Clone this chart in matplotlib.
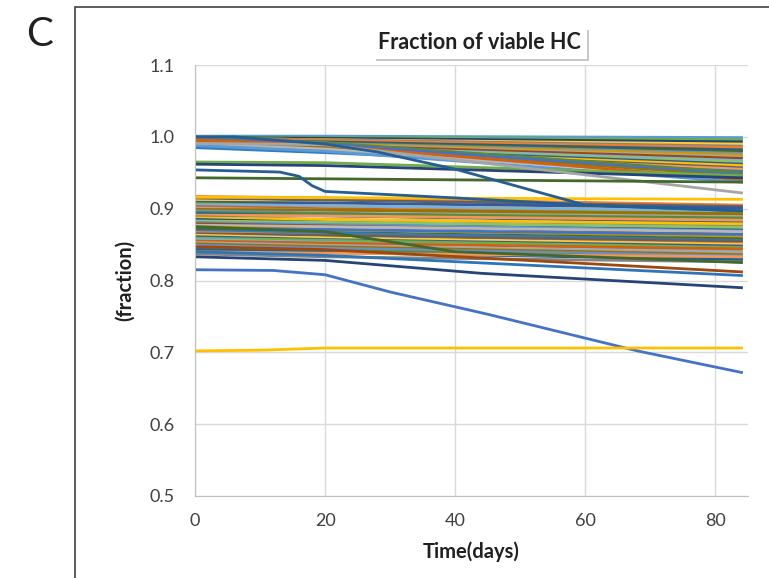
import matplotlib
matplotlib.use("Agg")
import matplotlib.pyplot as plt
import matplotlib.patches as mpatches
import matplotlib.patheffects as pe

plt.rcParams['font.family'] = ['Lato', 'DejaVu Sans']

# Excel-style series palette (cycled)
palette = ['#5B9BD5', '#ED7D31', '#A5A5A5', '#FFC000', '#4472C4', '#70AD47',
           '#255E91', '#9E480E', '#636363', '#997300', '#264478', '#43682B',
           '#7CAFDD', '#F1975A', '#B7B7B7', '#FFCD33', '#698ED0', '#8CC168',
           '#327DC2', '#D26012', '#848484', '#CC9A00', '#335AA1', '#5A8A39']

# bulk series sampled at day 0, 20 and 84
bulk_t = [0, 20, 84]

top_v0 = [1.001, 1.000, 0.999, 0.998, 0.998, 0.997, 0.996, 0.995, 0.995, 0.994,
          0.993, 0.992, 0.991, 0.990, 0.989, 0.988, 0.987, 0.986, 0.985, 0.999,
          0.997, 0.993, 0.990, 0.996, 0.988, 0.965, 0.962]
top_v20 = [1.001, 0.999, 0.998, 0.996, 0.996, 0.995, 0.993, 0.992, 0.991, 0.990,
           0.989, 0.988, 0.986, 0.985, 0.984, 0.982, 0.981, 0.980, 0.978, 0.992,
           0.990, 0.985, 0.983, 0.988, 0.980, 0.964, 0.960]
top_v84 = [0.999, 0.996, 0.993, 0.990, 0.987, 0.985, 0.982, 0.980, 0.977, 0.975,
           0.972, 0.970, 0.967, 0.965, 0.962, 0.960, 0.957, 0.955, 0.952, 0.950,
           0.947, 0.945, 0.942, 0.940, 0.937, 0.946, 0.943]

mid_v0 = [0.917, 0.914, 0.911, 0.909, 0.907, 0.905, 0.903, 0.901, 0.899, 0.897,
          0.895, 0.893, 0.891, 0.889, 0.887, 0.885, 0.883, 0.881, 0.879, 0.877,
          0.875, 0.873, 0.871, 0.869, 0.867, 0.865, 0.863, 0.861, 0.859, 0.857,
          0.855, 0.853, 0.851, 0.849, 0.846, 0.843, 0.840, 0.837]
mid_v20 = [0.915, 0.912, 0.908, 0.908, 0.904, 0.904, 0.900, 0.898, 0.898, 0.894,
           0.893, 0.890, 0.890, 0.885, 0.885, 0.881, 0.881, 0.878, 0.876, 0.875,
           0.871, 0.871, 0.867, 0.866, 0.863, 0.863, 0.859, 0.857, 0.856, 0.853,
           0.852, 0.849, 0.847, 0.845, 0.842, 0.839, 0.838, 0.833]
mid_v84 = [0.905, 0.903, 0.899, 0.901, 0.895, 0.897, 0.892, 0.889, 0.893, 0.885,
           0.887, 0.881, 0.884, 0.877, 0.879, 0.871, 0.874, 0.869, 0.866, 0.868,
           0.861, 0.864, 0.858, 0.856, 0.853, 0.855, 0.850, 0.848, 0.846, 0.842,
           0.844, 0.839, 0.836, 0.834, 0.831, 0.829, 0.833, 0.826]

# individually shaped series
dec_top_t = [0, 6, 20, 28, 40, 50, 60, 84]
dec_top_v = [1.000, 1.000, 0.990, 0.979, 0.955, 0.930, 0.905, 0.897]

step_t = [0, 13, 16, 18, 20, 40, 60, 84]
step_v = [0.954, 0.951, 0.945, 0.932, 0.924, 0.915, 0.905, 0.897]

green_flat_t = [0, 84]
green_flat_v = [0.943, 0.937]

grey_dec_t = [0, 20, 84]
grey_dec_v = [0.991, 0.989, 0.922]

gold_flat_t = [0, 84]
gold_flat_v = [0.916, 0.913]

gold_low_t = [0, 10, 20, 84]
gold_low_v = [0.702, 0.703, 0.706, 0.706]

blue_low_t = [0, 12, 20, 30, 45, 68, 84]
blue_low_v = [0.815, 0.814, 0.808, 0.784, 0.753, 0.702, 0.672]

navy_t = [0, 20, 44, 84]
navy_v = [0.833, 0.828, 0.810, 0.790]

blue2_t = [0, 20, 84]
blue2_v = [0.840, 0.835, 0.807]

brown_t = [0, 20, 84]
brown_v = [0.847, 0.843, 0.812]

green_dec_t = [0, 20, 40, 84]
green_dec_v = [0.875, 0.868, 0.840, 0.825]

fig = plt.figure(figsize=(7.69, 5.78), dpi=100)
ax = fig.add_axes([0.2536, 0.1419, 0.7191, 0.7456])

lw = 2.0
for i in range(len(top_v0)):
    ax.plot(bulk_t, [top_v0[i], top_v20[i], top_v84[i]],
            color=palette[(i * 5) % len(palette)], lw=lw)
for i in range(len(mid_v0)):
    ax.plot(bulk_t, [mid_v0[i], mid_v20[i], mid_v84[i]],
            color=palette[(i * 7 + 1) % len(palette)], lw=lw)

ax.plot(grey_dec_t, grey_dec_v, color='#A5A5A5', lw=lw)
ax.plot(green_flat_t, green_flat_v, color='#43682B', lw=lw)
ax.plot(gold_flat_t, gold_flat_v, color='#FFC000', lw=lw)
ax.plot(dec_top_t, dec_top_v, color='#255E91', lw=lw)
ax.plot(step_t, step_v, color='#255E91', lw=lw)
ax.plot(green_dec_t, green_dec_v, color='#43682B', lw=lw)
ax.plot(brown_t, brown_v, color='#9E480E', lw=lw)
ax.plot(blue2_t, blue2_v, color='#2E75B6', lw=lw)
ax.plot(navy_t, navy_v, color='#264478', lw=lw)
ax.plot(blue_low_t, blue_low_v, color='#4472C4', lw=lw)
ax.plot(gold_low_t, gold_low_v, color='#FFC000', lw=lw)

ax.set_xlim(0, 85)
ax.set_ylim(0.5, 1.1)
ax.set_xticks([0, 20, 40, 60, 80])
ax.set_yticks([0.5, 0.6, 0.7, 0.8, 0.9, 1.0, 1.1])
ax.set_yticklabels(['0.5', '0.6', '0.7', '0.8', '0.9', '1.0', '1.1'])
ax.grid(True, color='#D9D9D9', lw=1)
ax.set_axisbelow(True)
for s in ['top', 'right']:
    ax.spines[s].set_visible(False)
for s in ['left', 'bottom']:
    ax.spines[s].set_color('#BFBFBF')
ax.tick_params(length=0, labelsize=13, colors='#404040')
ax.tick_params(axis='x', pad=12)
ax.tick_params(axis='y', pad=15)

ax.set_xlabel('Time(days)', fontsize=14.5, fontweight='bold', color='#202020', labelpad=9)
ax.set_ylabel('(fraction)', fontsize=14.5, fontweight='bold', color='#202020', labelpad=10)

t = fig.text(0.624, 0.926, 'Fraction of viable HC', ha='center', va='center',
             fontsize=15.5, fontweight='bold', color='#202020',
             bbox=dict(boxstyle='square,pad=0.25', facecolor='white', edgecolor='none'))
t.get_bbox_patch().set_path_effects([
    pe.withSimplePatchShadow(offset=(2, -2), shadow_rgbFace='#909090', alpha=0.5)])

fig.text(0.051, 0.94, 'C', ha='center', va='center', fontsize=29, color='#202020')

frame = mpatches.Rectangle((75 / 769, -0.05), 1.0, 1.05 - 7 / 578, transform=fig.transFigure,
                           fill=False, edgecolor='#404040', lw=1.2)
fig.patches.append(frame)

fig.savefig('out.png', dpi=100)
